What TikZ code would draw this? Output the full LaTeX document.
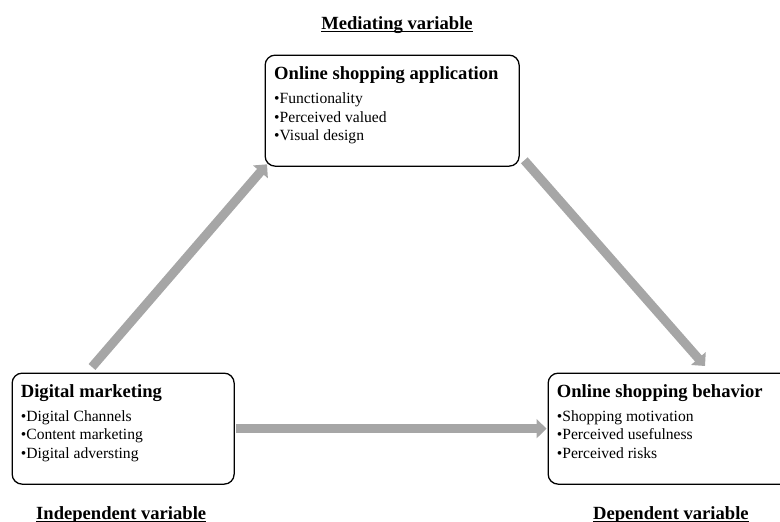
\documentclass[tikz,border=0pt]{standalone}
\usepackage{fontspec}
\setmainfont{Liberation Serif}
\usetikzlibrary{arrows.meta,calc}
\definecolor{arrowgray}{HTML}{A6A6A6}
\tikzset{
  box/.style={draw=black, line width=1.3pt, rounded corners=10pt, anchor=north west, inner sep=0pt},
  ttl/.style={anchor=base west, inner sep=0pt, font=\fontsize{18.6}{20}\selectfont\bfseries},
  itm/.style={anchor=base west, inner sep=0pt, font=\fontsize{15.6}{18}\selectfont},
  lab/.style={anchor=base west, inner sep=0pt, font=\fontsize{18.6}{20}\selectfont\bfseries},
  ul/.style={line width=1pt},
  bigarrow/.style={draw=arrowgray, line width=9pt, -{Triangle[width=19pt,length=10pt]}}
}
\begin{document}
\begin{tikzpicture}[x=1pt,y=-1pt]
\clip (0,0) rectangle (780,522);
\useasboundingbox (0,0) rectangle (780,522);

% boxes
\node[box, minimum width=254pt, minimum height=111pt] (app) at (264.5,54.5) {};
\node[box, minimum width=222pt, minimum height=111pt] (dm) at (11.5,372.5) {};
\node[box, minimum width=260pt, minimum height=111pt] (beh) at (547.5,372.5) {};

% top box text
\node[ttl] (appT) at (274,79) {Online shopping application};
\node[itm] (app1) at (274,103.3) {\textbullet Functionality};
\node[itm] (app2) at (274,122) {\textbullet Perceived valued};
\node[itm] (app3) at (274,140.7) {\textbullet Visual design};

% left box text
\node[ttl] (dmT) at (20.7,397.7) {Digital marketing};
\node[itm] (dm1) at (20.7,421) {\textbullet Digital Channels};
\node[itm] (dm2) at (20.7,439.7) {\textbullet Content marketing};
\node[itm] (dm3) at (20.7,458.3) {\textbullet Digital adversting};

% right box text
\node[ttl] (behT) at (556.7,397.7) {Online shopping behavior};
\node[itm] (beh1) at (556.7,421) {\textbullet Shopping motivation};
\node[itm] (beh2) at (556.7,439.7) {\textbullet Perceived usefulness};
\node[itm] (beh3) at (556.7,458.3) {\textbullet Perceived risks};

% variable labels
\node[lab, anchor=base] (med) at (397,29.3) {Mediating variable};
\node[lab] (ind) at (36,519) {Independent variable};
\node[lab] (dep) at (593,519) {Dependent variable};
\draw[ul] ($(med.base west)+(0,2)$) -- ($(med.base east)+(0,2)$);
\draw[ul] ($(ind.base west)+(0,2)$) -- ($(ind.base east)+(0,2)$);
\draw[ul] ($(dep.base west)+(0,2)$) -- ($(dep.base east)+(0,2)$);

% arrows
\draw[bigarrow] ($(dm.north west)+(80.5,-5.5)$) -- ($(app.south west)+(2.5,-2.5)$);
\draw[bigarrow] ($(app.south east)+(4.5,-6.5)$) -- ($(beh.north west)+(157.5,-6.5)$);
\draw[bigarrow] ($(dm.east)+(1,0)$) -- ($(beh.west)+(-1,0)$);
\end{tikzpicture}
\end{document}
